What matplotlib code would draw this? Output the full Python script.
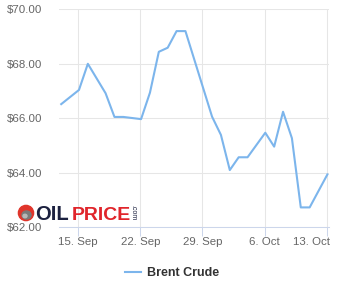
import datetime as dt
import matplotlib
matplotlib.use("Agg")
import matplotlib.pyplot as plt
import matplotlib.dates as mdates
from matplotlib.patches import Circle, Ellipse
from matplotlib.transforms import IdentityTransform, ScaledTranslation

# Brent crude daily prices
dates = ["2025-09-13", "2025-09-15", "2025-09-16", "2025-09-18", "2025-09-19",
         "2025-09-20", "2025-09-22", "2025-09-23", "2025-09-24", "2025-09-25",
         "2025-09-26", "2025-09-27", "2025-09-30", "2025-10-01", "2025-10-02",
         "2025-10-03", "2025-10-04", "2025-10-06", "2025-10-07", "2025-10-08",
         "2025-10-09", "2025-10-10", "2025-10-11", "2025-10-13"]
prices = [66.52, 67.04, 68.00, 66.92, 66.05,
          66.05, 65.97, 66.94, 68.44, 68.59,
          69.20, 69.20, 66.06, 65.39, 64.10,
          64.57, 64.57, 65.47, 64.96, 66.24,
          65.27, 62.73, 62.73, 63.94]
tick_dates = ["2025-09-15", "2025-09-22", "2025-09-29", "2025-10-06", "2025-10-13"]
tick_labels = ["15. Sep", "22. Sep", "29. Sep", "6. Oct", "13. Oct"]
y_ticks = [62, 64, 66, 68, 70]

plt.rcParams['font.family'] = ['Liberation Sans', 'DejaVu Sans']

W, H = 340, 300
fig = plt.figure(figsize=(W / 100, H / 100), dpi=100)
ax = fig.add_axes([59 / W, 1 - 227.3 / H, (329 - 59) / W, (227.3 - 9.3) / H])

# points sit slightly after midnight on the chart
x = [mdates.date2num(dt.datetime.fromisoformat(d)) + 0.08 for d in dates]
xt = [mdates.date2num(dt.datetime.fromisoformat(d)) for d in tick_dates]

ax.plot(x, prices, color='#7cb5ec', lw=1.5, solid_joinstyle='round', zorder=3)

ax.set_xlim(xt[0] - 2.17, xt[-1] + 0.26)
ax.set_ylim(62, 70)
ax.set_xticks(xt, tick_labels)
ax.set_yticks(y_ticks, ["$%.2f" % v for v in y_ticks])

ax.grid(True, color='#e6e6e6', lw=0.75)
ax.set_axisbelow(True)
for s in ['top', 'right', 'left']:
    ax.spines[s].set_visible(False)
ax.spines['bottom'].set_color('#ccd6eb')
ax.spines['bottom'].set_linewidth(0.75)
ax.spines['bottom'].set_zorder(4)
ax.tick_params(axis='x', length=6.75, width=0.75, color='#ccd6eb', pad=0.5,
               labelsize=8.25, labelcolor='#666666')
ax.tick_params(axis='y', length=0, pad=12, labelsize=8.25, labelcolor='#666666')

# keep the last date label inside the chart
last = ax.get_xticklabels()[-1]
last.set_horizontalalignment('right')
last.set_transform(last.get_transform() + ScaledTranslation(3 / 100, 0, fig.dpi_scale_trans))

# legend
fig.legend(['Brent Crude'], loc='center', bbox_to_anchor=(172 / W, 1 - 273 / H),
           frameon=False, handlelength=1.25, handletextpad=0.5,
           prop={'weight': 'bold', 'size': 9}, labelcolor='#333333')

# oilprice.com watermark
fig.add_artist(Circle((26, H - 213), 7.6, transform=IdentityTransform(),
                      color='#e0352b', zorder=5))
fig.add_artist(Ellipse((26.5, H - 215), 9, 8, transform=IdentityTransform(),
                       color='#7a7a7a', zorder=6))
fig.add_artist(Ellipse((25, H - 216), 4, 3.5, transform=IdentityTransform(),
                       color='#b8b8b8', zorder=7))
fig.text(35 / W, 1 - 220 / H, "OIL", color='#1c2140', fontsize=14.5,
         fontweight='bold', va='baseline', zorder=5)
fig.text(71.5 / W, 1 - 220 / H, "PRICE", color='#e0252b', fontsize=14,
         fontweight='bold', va='baseline', zorder=5)
fig.text(133 / W, 1 - 213 / H, ".com", color='#1c2140', fontsize=5,
         rotation=-90, ha='center', va='center', zorder=5)

fig.savefig("out.png", dpi=100)
